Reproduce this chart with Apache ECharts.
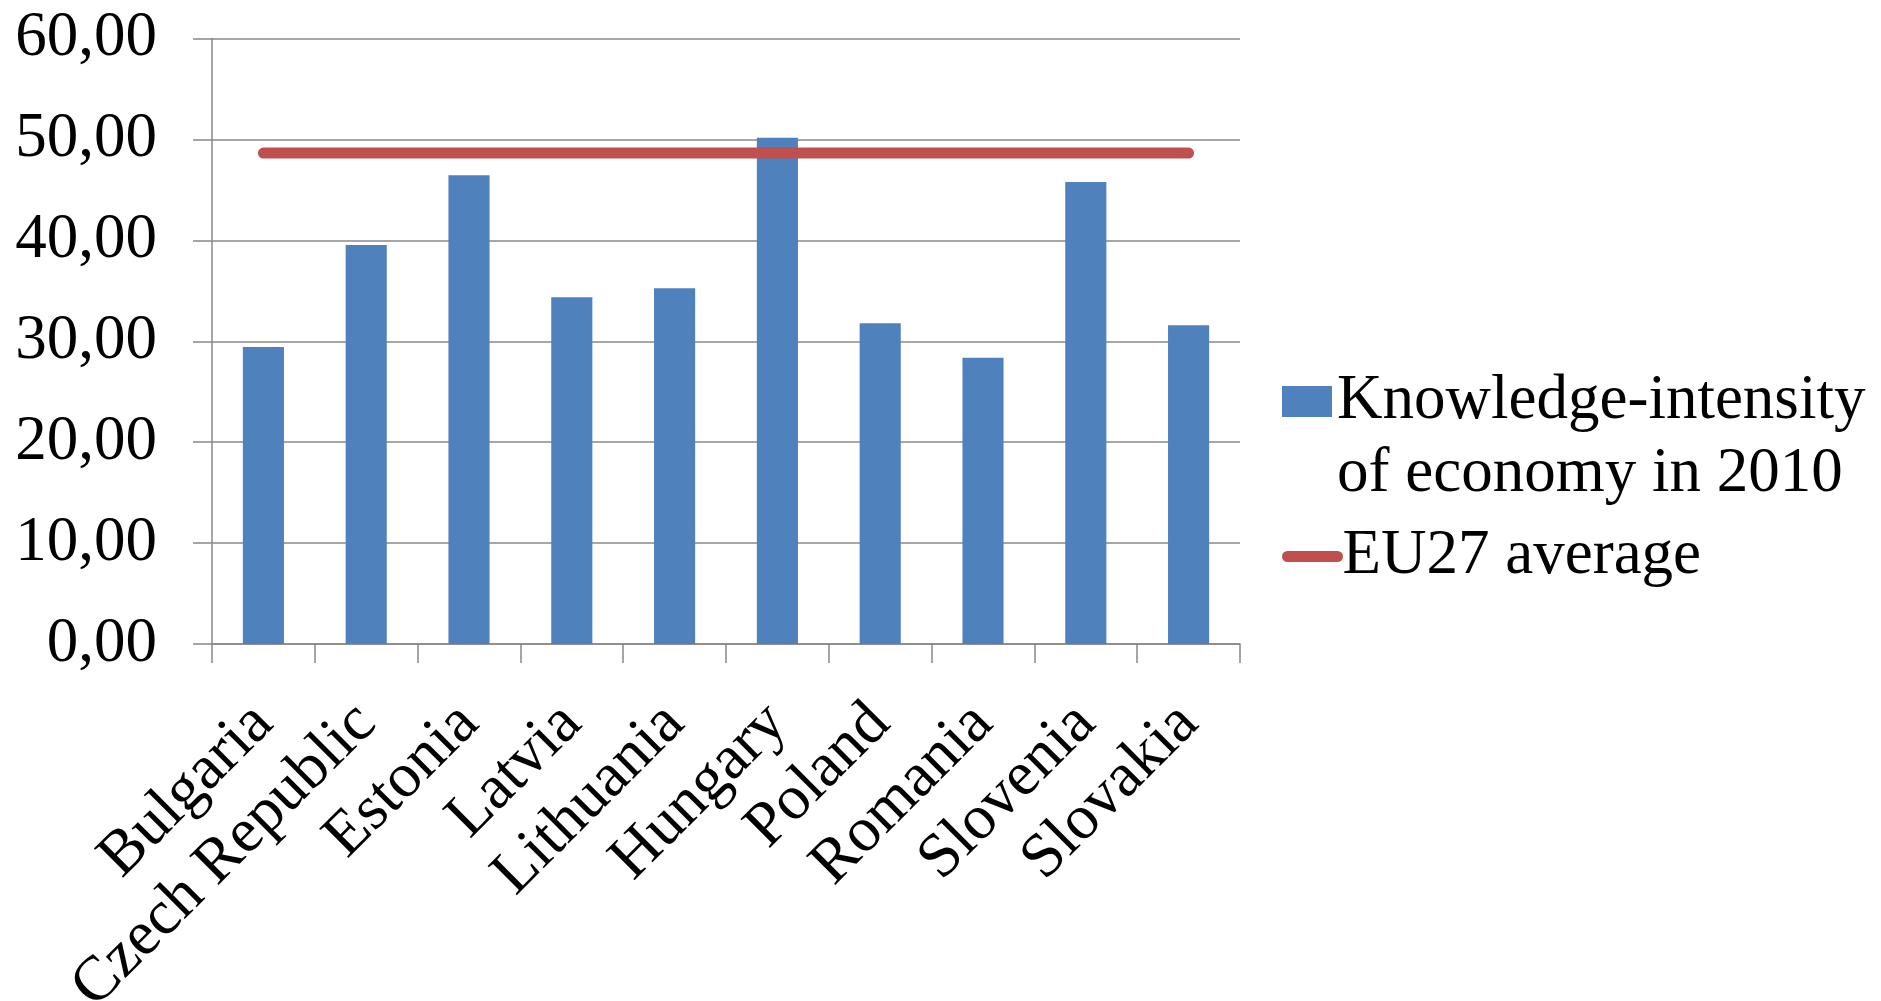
<!DOCTYPE html>
<html>
<head>
<meta charset="utf-8">
<title>Knowledge-intensity of economy in 2010</title>
<script src="https://cdn.jsdelivr.net/npm/echarts@6/dist/echarts.min.js"></script>
<style>
  html, body { margin: 0; padding: 0; background: #ffffff; }
  #chart { width: 1881px; height: 1001px; }
</style>
</head>
<body>
<div id="chart"></div>
<script>
// Countries on the category axis
const countries = ['Bulgaria', 'Czech Republic', 'Estonia', 'Latvia', 'Lithuania',
                   'Hungary', 'Poland', 'Romania', 'Slovenia', 'Slovakia'];
// Knowledge-intensity of economy in 2010, per country
const knowledgeIntensity = [29.44, 39.54, 46.45, 34.37, 35.26, 50.16, 31.78, 28.36, 45.79, 31.58];
// EU27 average, repeated across every country
const eu27Average = [48.65, 48.65, 48.65, 48.65, 48.65, 48.65, 48.65, 48.65, 48.65, 48.65];
// Value axis tick labels (decimal comma)
const yTickValues = [0, 10, 20, 30, 40, 50, 60];
const yTickLabels = ['0,00', '10,00', '20,00', '30,00', '40,00', '50,00', '60,00'];

const barName = 'Knowledge-intensity of economy in 2010';
const lineName = 'EU27 average';
const FONT = "'Liberation Serif', 'Times New Roman', serif";
const FONT_SIZE = 63;
const LINE_H = 73;
const AXIS_GREY = '#888888';

const chart = echarts.init(document.getElementById('chart'), null, { renderer: 'canvas' });

chart.setOption({
  animation: false,
  backgroundColor: '#ffffff',
  textStyle: { fontFamily: FONT, color: '#000000' },
  grid: {
    left: 212, right: 641, top: 38.5, bottom: 357,
    containLabel: false,
    outerBoundsMode: 'none'
  },
  legend: [
    {
      data: [barName],
      orient: 'vertical',
      left: 1282,
      top: 292,
      padding: 0,
      icon: 'rect',
      itemWidth: 50,
      itemHeight: 31,
      // leading blank line keeps the swatch level with the first text line
      formatter: function () { return '\nKnowledge-intensity\nof economy in 2010'; },
      textStyle: { fontFamily: FONT, fontSize: FONT_SIZE, lineHeight: LINE_H, color: '#000000' }
    },
    {
      data: [lineName],
      orient: 'vertical',
      left: 1282,
      top: 520,
      padding: 0,
      itemWidth: 50,
      itemHeight: 14,
      lineStyle: { width: 11, cap: 'round' },
      textStyle: { fontFamily: FONT, fontSize: FONT_SIZE, lineHeight: LINE_H, color: '#000000' }
    }
  ],
  xAxis: {
    type: 'category',
    data: countries,
    boundaryGap: true,
    axisLine: { show: true, lineStyle: { color: AXIS_GREY, width: 1.5 } },
    axisTick: { show: true, length: 19, lineStyle: { color: AXIS_GREY, width: 1.5 } },
    axisLabel: {
      interval: 0,
      rotate: 45,
      margin: 70,
      fontFamily: FONT,
      fontSize: FONT_SIZE,
      color: '#000000'
    },
    splitLine: { show: false }
  },
  yAxis: {
    type: 'value',
    min: 0,
    max: 60,
    interval: 10,
    axisLine: { show: true, lineStyle: { color: AXIS_GREY, width: 1.5 } },
    axisTick: { show: true, length: 19, lineStyle: { color: AXIS_GREY, width: 1.5 } },
    axisLabel: {
      margin: 55,
      fontFamily: FONT,
      fontSize: FONT_SIZE,
      color: '#000000',
      formatter: function (v) { return yTickLabels[yTickValues.indexOf(v)]; }
    },
    splitLine: { show: true, lineStyle: { color: AXIS_GREY, width: 1.5 } }
  },
  series: [
    {
      name: barName,
      type: 'bar',
      data: knowledgeIntensity,
      barWidth: '40%',
      itemStyle: { color: '#4F81BD' },
      z: 2
    },
    {
      name: lineName,
      type: 'line',
      data: eu27Average,
      symbol: 'none',
      lineStyle: { color: '#C0504D', width: 11, cap: 'round' },
      itemStyle: { color: '#C0504D' },
      z: 3
    }
  ]
});
</script>
</body>
</html>
